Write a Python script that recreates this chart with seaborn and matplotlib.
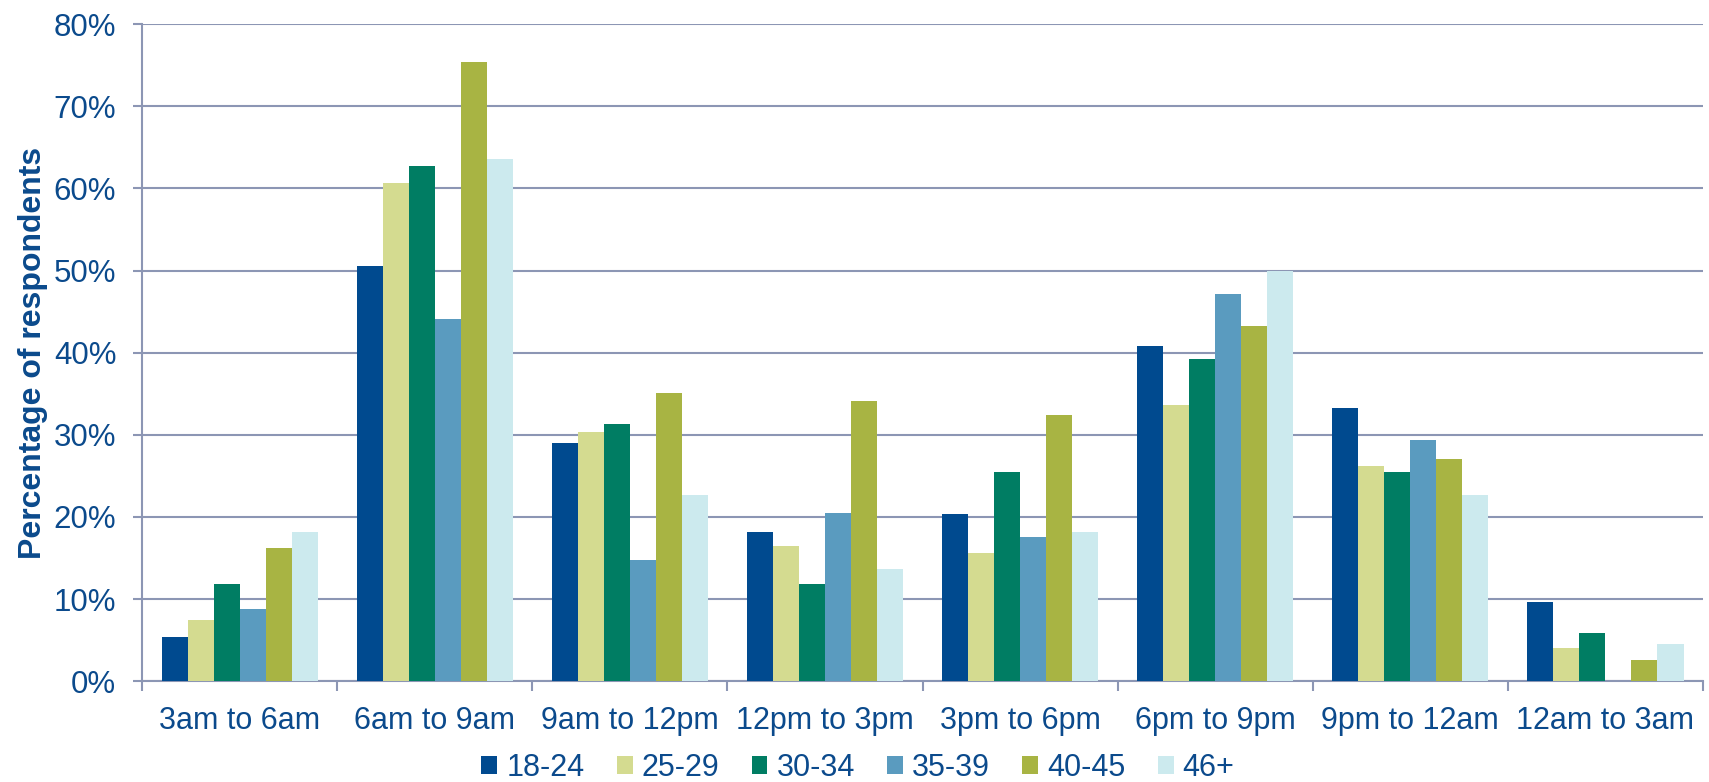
import pandas as pd
import matplotlib.pyplot as plt
import matplotlib.ticker as mticker
import seaborn as sns

# 数据
time_slots = ["3am to 6am", "6am to 9am", "9am to 12pm", "12pm to 3pm",
              "3pm to 6pm", "6pm to 9pm", "9pm to 12am", "12am to 3am"]
age_groups = ["18-24", "25-29", "30-34", "35-39", "40-45", "46+"]

pct_18_24 = [5.4, 50.5, 29.0, 18.2, 20.4, 40.8, 33.3, 9.6]
pct_25_29 = [7.4, 60.7, 30.3, 16.4, 15.6, 33.6, 26.2, 4.0]
pct_30_34 = [11.8, 62.7, 31.3, 11.8, 25.5, 39.2, 25.5, 5.8]
pct_35_39 = [8.8, 44.1, 14.7, 20.5, 17.6, 47.1, 29.4, 0.0]
pct_40_45 = [16.2, 75.4, 35.1, 34.1, 32.4, 43.2, 27.0, 2.6]
pct_46_up = [18.2, 63.6, 22.7, 13.6, 18.2, 50.0, 22.7, 4.5]

colors = ["#004A8F", "#D4DB90", "#007D63", "#5A9BBF", "#A8B443", "#CCEAEE"]
text_color = "#0B4A8C"
grid_color = "#8C96B4"

series = [pct_18_24, pct_25_29, pct_30_34, pct_35_39, pct_40_45, pct_46_up]
rows = []
for age, vals in zip(age_groups, series):
    for slot, v in zip(time_slots, vals):
        rows.append({"Time": slot, "Age": age, "Pct": v / 100})
df = pd.DataFrame(rows)

sns.set_style("white")
plt.rcParams['font.family'] = ['Liberation Sans', 'DejaVu Sans']

fig = plt.figure(figsize=(17.09, 7.82), dpi=100)
ax = fig.add_axes([0.0831, 0.129, 0.9134, 0.840])

sns.barplot(data=df, x="Time", y="Pct", hue="Age", order=time_slots,
            hue_order=age_groups, palette=colors, saturation=1, width=0.8, gap=0,
            edgecolor="none", linewidth=0, ax=ax, legend=True, zorder=3)

ax.set_ylim(0, 0.8)
ax.set_xlim(-0.5, 7.5)
ax.yaxis.set_major_locator(mticker.MultipleLocator(0.1))
ax.yaxis.set_major_formatter(mticker.PercentFormatter(1.0, decimals=0))
ax.grid(axis="y", color=grid_color, linewidth=1.5, zorder=0)
ax.set_axisbelow(True)

for s in ["top", "right"]:
    ax.spines[s].set_visible(False)
for s in ["left", "bottom"]:
    ax.spines[s].set_color(grid_color)
    ax.spines[s].set_linewidth(1.5)

ax.tick_params(axis="y", which="major", direction="out", length=6.5, width=1.5,
               color=grid_color, labelsize=22.5, labelcolor=text_color, pad=12, left=True)
ax.tick_params(axis="x", which="major", length=0, labelsize=22,
               labelcolor=text_color, pad=18)
ax.set_xticks([i - 0.5 for i in range(9)], minor=True)
ax.tick_params(axis="x", which="minor", direction="out", length=7, width=1.5,
               color=grid_color, bottom=True)

ax.set_xlabel("")
ax.set_ylabel("Percentage of respondents", fontsize=23, fontweight="bold",
              color=text_color, labelpad=4)

handles, labels = ax.get_legend_handles_labels()
ax.legend(handles, labels, loc="center", bbox_to_anchor=(858 / 1709, 1 - 768 / 782),
          bbox_transform=fig.transFigure, ncol=6, frameon=False, fontsize=22,
          labelcolor=text_color, handlelength=0.52, handleheight=0.52,
          handletextpad=0.3, columnspacing=1.05, borderpad=0, borderaxespad=0)

fig.savefig("out.png", dpi=100)
